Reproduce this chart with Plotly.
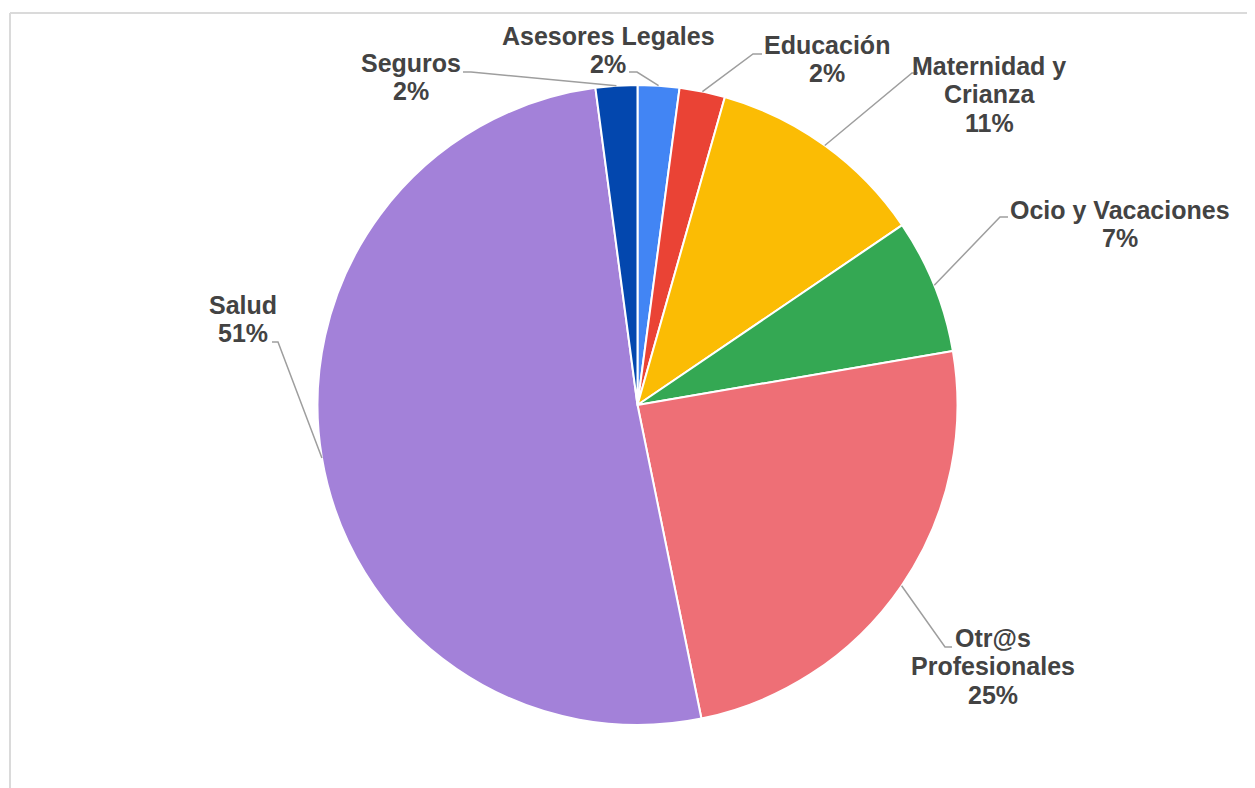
import numpy as np
import plotly.graph_objects as go

# ---- data ----
categories = ["Asesores Legales", "Educación", "Maternidad y|Crianza", "Ocio y Vacaciones",
              "Otr@s|Profesionales", "Salud", "Seguros"]
values = [2.1, 2.3, 11.1, 6.8, 24.5, 51.1, 2.1]
pct_labels = ["2%", "2%", "11%", "7%", "25%", "51%", "2%"]
colors = ["#4285F4", "#EA4335", "#FBBC04", "#34A853", "#EE6F76", "#A381D9", "#0347AE"]

# ---- layout constants (pixels, in screen coordinates) ----
W, H = 1255, 788
OFF = 8  # page body margin
CX, CY, R = 637.5, 405.0, 320.0
LINE_H = 28.5
# label text centre, leader elbow, leader end (pixels)
label_pos = [(608, 50), (827, 59), (989, 94), (1120, 224), (993, 666), (243, 319), (411, 77)]
elbow = [(637, 72), (753, 54), (912, 73), (1000, 217), (945, 647), (278, 342), (471, 72)]
line_end = [(629, 72), (762, 54), (918, 73), (1008, 217), (952, 647), (272, 342), (463, 72)]

def px(x):
    return (x - OFF) / W

def py(y):
    return 1 - (y - OFF) / H

fig = go.Figure(go.Pie(
    labels=[c.replace("|", " ") for c in categories], values=values, sort=False,
    direction="clockwise", rotation=0,
    marker=dict(colors=colors, line=dict(color="white", width=2)),
    textinfo="none", hoverinfo="label+percent", showlegend=False,
    domain=dict(x=[px(CX - R), px(CX + R)], y=[py(CY + R), py(CY - R)]),
))

vals = np.array(values, dtype=float)
cum = np.cumsum(vals) / vals.sum()
mid = (cum - vals / vals.sum() / 2) * 2 * np.pi

shapes = []
annotations = []
for i, name in enumerate(categories):
    ex = CX + R * np.sin(mid[i])
    ey = CY - R * np.cos(mid[i])
    (bx, by), (lx, ly) = elbow[i], line_end[i]
    shapes.append(dict(type="path", xref="paper", yref="paper",
                       path=f"M {px(ex)} {py(ey)} L {px(bx)} {py(by)} L {px(lx)} {py(ly)}",
                       line=dict(color="#9E9E9E", width=1.5)))
    tx, ty = label_pos[i]
    lines = name.split("|") + [pct_labels[i]]
    n = len(lines)
    for k, t in enumerate(lines):
        yk = ty + (k - (n - 1) / 2) * LINE_H
        annotations.append(dict(x=px(tx), y=py(yk), xref="paper", yref="paper",
                                text=f"<b>{t}</b>", showarrow=False,
                                xanchor="center", yanchor="middle", align="center",
                                font=dict(family="Liberation Sans, Arial, sans-serif", size=25,
                                          color="#434343")))

# outer frame (top and left edges)
shapes.append(dict(type="line", xref="paper", yref="paper", x0=px(10), x1=1, y0=py(13), y1=py(13),
                   line=dict(color="#DADADA", width=2)))
shapes.append(dict(type="line", xref="paper", yref="paper", x0=px(10), x1=px(10), y0=0, y1=py(13),
                   line=dict(color="#DADADA", width=2)))

fig.update_layout(width=W, height=H, margin=dict(l=0, r=0, t=0, b=0),
                  paper_bgcolor="white", plot_bgcolor="white",
                  shapes=shapes, annotations=annotations,
                  font=dict(family="Liberation Sans, Arial, sans-serif"))

fig.write_html("out.html")
